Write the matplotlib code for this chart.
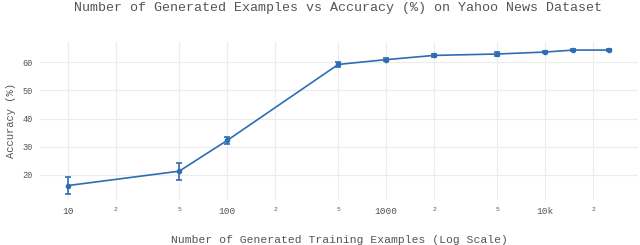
import matplotlib
matplotlib.use('Agg')
import matplotlib.pyplot as plt
import numpy as np

# Number of generated training examples vs accuracy
n_examples = [10, 50, 100, 500, 1000, 2000, 5000, 10000, 15000, 25000]
accuracy = [16.2, 21.3, 32.2, 59.2, 60.9, 62.4, 62.9, 63.6, 64.3, 64.3]
acc_err = [3.0, 3.0, 1.2, 1.0, 0.5, 0.4, 0.7, 0.5, 0.4, 0.4]

tick_vals = [10, 20, 50, 100, 200, 500, 1000, 2000, 5000, 10000, 20000]
tick_text = ['10', '2', '5', '100', '2', '5', '1000', '2', '5', '10k', '2']

font = 'Liberation Mono'
txt_col = '#555555'
line_col = '#2e6db4'

fig = plt.figure(figsize=(6.4, 2.45), dpi=100)
ax = fig.add_axes([0.0625, 0.184, 0.935, 0.645])

ax.errorbar(n_examples, accuracy, yerr=acc_err, color=line_col, lw=1.2,
            marker='o', ms=3, capsize=2.5, elinewidth=1.2, capthick=1.2)

ax.set_xscale('log')
ax.set_xlim(6.67, 38500)
ax.set_ylim(11.1, 67.2)
ax.set_yticks([20, 30, 40, 50, 60])
ax.set_xticks(tick_vals)
ax.xaxis.set_minor_locator(matplotlib.ticker.NullLocator())
ax.set_xticklabels(tick_text)
for lab, t in zip(ax.get_xticklabels(), tick_text):
    lab.set_fontfamily(font)
    lab.set_color(txt_col)
    lab.set_fontsize(6.8 if t in ('10', '100', '1000', '10k') else 4.5)
for lab in ax.get_yticklabels():
    lab.set_fontfamily(font)
    lab.set_color(txt_col)
    lab.set_fontsize(6.2)

ax.grid(True, color='#ececec', lw=0.8)
ax.set_axisbelow(True)
ax.tick_params(length=0, pad=5)
for s in ax.spines.values():
    s.set_visible(False)

ax.set_xlabel('Number of Generated Training Examples (Log Scale)', fontfamily=font,
              fontsize=8.2, color=txt_col, labelpad=14)
ax.set_ylabel('Accuracy (%)', fontfamily=font, fontsize=7.6, color=txt_col, labelpad=5)
fig.text(0.528, 0.968, 'Number of Generated Examples vs Accuracy (%) on Yahoo News Dataset',
         ha='center', va='center', fontfamily=font, fontsize=9.6, color=txt_col)

fig.savefig('out.png', dpi=100)
